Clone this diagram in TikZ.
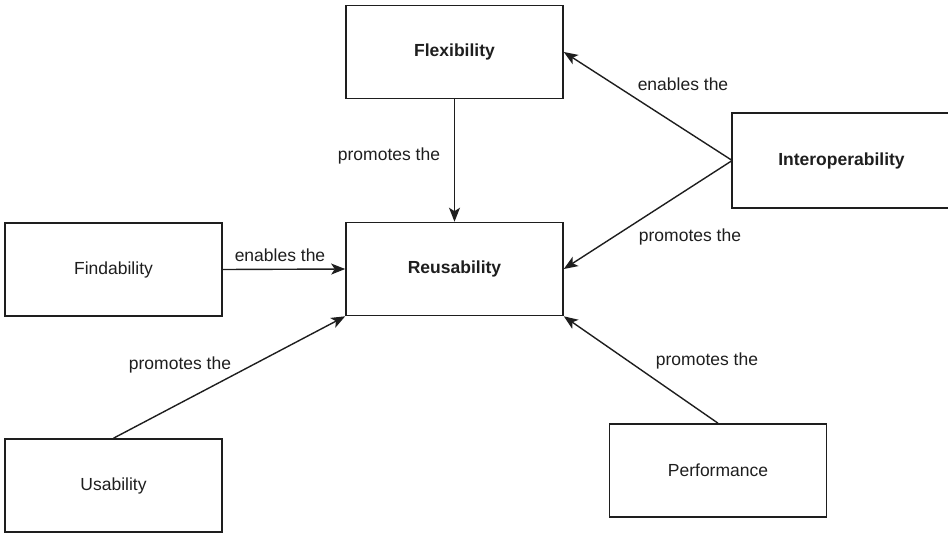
\documentclass[tikz,border=0pt]{standalone}
\usepackage{fontspec}
\setmainfont{Liberation Sans}
\usetikzlibrary{arrows.meta}
\definecolor{ink}{HTML}{1E1E1E}
\begin{document}
\begin{tikzpicture}[x=1pt,y=-1pt,
  boxline/.style={draw=ink,line width=1.6pt},
  concept/.style={boxline,minimum width=217pt,minimum height=93pt,
    inner sep=0pt,text=ink,font=\fontsize{17.5}{20}\selectfont},
  keyconcept/.style={concept,font=\fontsize{17.5}{20}\selectfont\bfseries},
  link/.style={draw=ink,line width=1.4pt,-{Stealth[length=14pt,width=11pt,inset=3.5pt]}},
  linklabel/.style={text=ink,font=\fontsize{17.5}{20}\selectfont,inner sep=0pt}]
\useasboundingbox (0,0) rectangle (948,533);

% boxes
\node[keyconcept] (flex)  at (454.5,52)   {Flexibility};
\node[keyconcept] (reuse) at (454.5,269)  {Reusability};
\node[concept]    (find)  at (113.5,269.5){Findability};
\node[keyconcept, draw=none] (inter) at (841.5,160.5){Interoperability};
\node[concept]    (usab)  at (113.5,485.5){Usability};
\node[concept]    (perf)  at (718,470.5)  {Performance};

% the Interoperability box runs past the right margin
\draw[boxline] ([xshift=30pt]inter.north east) -- (inter.north west)
  -- (inter.south west) -- ([xshift=30pt]inter.south east);

% connectors
\draw[link] (flex.south) -- (reuse.north);
\draw[link] (find.east) -- (reuse.west);
\draw[link] (usab.north) -- (reuse.south west);
\draw[link] (perf.north) -- (reuse.south east);
\draw[link] (inter.west) -- (flex.east);
\draw[link] (inter.west) -- (reuse.east);

% connector labels
\node[linklabel] (l1) at (389,156) {promotes the};
\node[linklabel] (l2) at (280,255) {enables the};
\node[linklabel] (l3) at (180,365) {promotes the};
\node[linklabel] (l4) at (707,361) {promotes the};
\node[linklabel] (l5) at (683,84)  {enables the};
\node[linklabel] (l6) at (690,237) {promotes the};
\end{tikzpicture}
\end{document}
